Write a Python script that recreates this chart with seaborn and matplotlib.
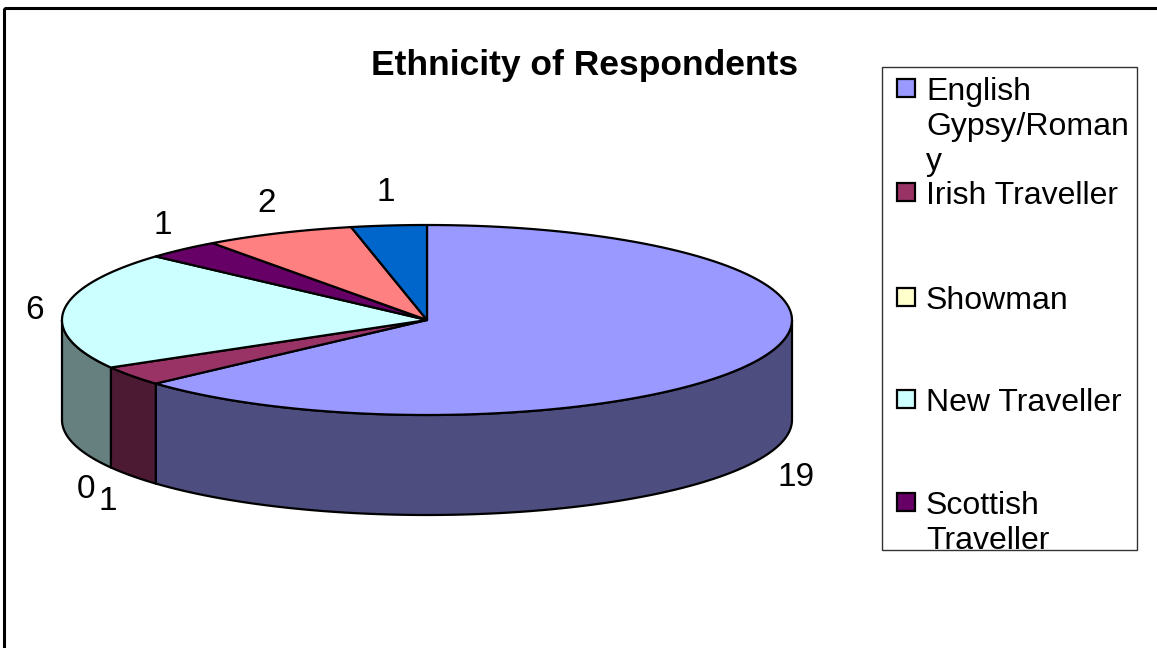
import numpy as np
import matplotlib
matplotlib.use("Agg")
import matplotlib.pyplot as plt
import seaborn as sns
from matplotlib.patches import Polygon, Rectangle

# ---------------- data ----------------
categories = ["English Gypsy/Romany", "Irish Traveller", "Showman", "New Traveller",
              "Scottish Traveller", "Welsh Traveller", "Other"]
values = [19, 1, 0, 6, 1, 2, 1]
slice_colors = ["#9999FF", "#993366", "#FFFFCC", "#CCFFFF", "#660066", "#FF8080", "#0066CC"]
legend_labels = ["English\nGypsy/Roman\ny", "Irish Traveller", "Showman", "New Traveller",
                 "Scottish\nTraveller"]
title = "Ethnicity of Respondents"

# ---------------- style ----------------
sns.set_theme(style="white")
plt.rcParams["font.family"] = ["Liberation Sans", "DejaVu Sans"]
palette = sns.color_palette(slice_colors)

fig = plt.figure(figsize=(11.57, 6.48), dpi=100)
ax = fig.add_axes([0, 0, 1, 1])
ax.set_xlim(0, 1157)
ax.set_ylim(648, 0)
ax.axis("off")

# outer frame (only top and left visible)
ax.add_patch(Rectangle((4, 8), 1200, 700, fill=False, edgecolor="black", lw=2.2))

# pie geometry (pixels)
cx, cy, rx, ry, depth = 427, 320, 365, 95, 100
total = float(sum(values))


def pt(theta_deg, dy=0.0):
    t = np.deg2rad(theta_deg)
    return cx + rx * np.cos(t), cy - ry * np.sin(t) + dy


cum = np.concatenate([[0], np.cumsum(values)])
theta1 = 90 - 360 * cum[:-1] / total
theta2 = 90 - 360 * cum[1:] / total

# side faces (front half only)
for i, v in enumerate(values):
    if v == 0:
        continue
    lo, hi = theta2[i], theta1[i]
    for k in range(-2, 2):
        a = max(lo, 180 + 360 * k)
        b = min(hi, 360 + 360 * k)
        if b > a:
            ts = np.linspace(a, b, 80)
            top = [pt(t) for t in ts]
            bot = [pt(t, depth) for t in ts[::-1]]
            col = np.array(palette[i]) * 0.5
            ax.add_patch(Polygon(top + bot, closed=True, facecolor=col,
                                 edgecolor="black", lw=1.6, joinstyle="round", zorder=2))

# top faces
for i, v in enumerate(values):
    if v == 0:
        continue
    ts = np.linspace(theta1[i], theta2[i], 120)
    verts = [(cx, cy)] + [pt(t) for t in ts]
    ax.add_patch(Polygon(verts, closed=True, facecolor=palette[i],
                         edgecolor="black", lw=1.6, joinstyle="round", zorder=3))

# data labels (placed just outside the slice's outer edge)
for i, v in enumerate(values):
    mid = (theta1[i] + theta2[i]) / 2
    m = np.deg2rad(mid)
    c, s = np.cos(m), np.sin(m)
    ex, ey = pt(mid, depth if s < 0 else 0)
    half_w = 9.3 * len(str(v))
    lx = ex + c * (20 + half_w)
    ly = ey - s * 37 + 4
    ax.text(lx, ly, str(v), ha="center", va="center", fontsize=24, color="black", zorder=5)

# title
ax.text(585, 66, title, ha="center", va="center", fontsize=25.5, fontweight="bold", color="black")

# legend box
leg_box = Rectangle((882, 67), 255, 483, fill=True, facecolor="white",
                    edgecolor="#333333", lw=1.0, zorder=4)
ax.add_patch(leg_box)
marker_centers = [88, 192, 297, 399, 502]
for i, lab in enumerate(legend_labels):
    yc = marker_centers[i]
    ax.add_patch(Rectangle((897, yc - 9), 18, 18, facecolor=palette[i],
                           edgecolor="black", lw=1.6, zorder=5))
    for j, line in enumerate(lab.split("\n")):
        t = ax.text(926, yc + 12 + 35 * j, line, ha="left", va="baseline",
                    fontsize=23, color="black", zorder=6)
        t.set_clip_path(leg_box)

fig.savefig("out.png", dpi=100)
